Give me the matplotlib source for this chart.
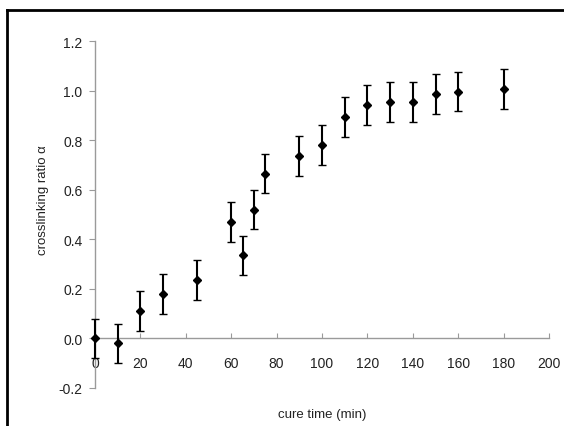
import matplotlib
matplotlib.use("Agg")
import matplotlib.pyplot as plt
from matplotlib.lines import Line2D

plt.rcParams['font.family'] = ['Liberation Sans', 'DejaVu Sans']

cure_time = [0, 10, 20, 30, 45, 60, 65, 70, 75, 90, 100, 110, 120, 130, 140, 150, 160, 180]
alpha = [0.0, -0.02, 0.11, 0.18, 0.235, 0.47, 0.335, 0.52, 0.665, 0.735, 0.78, 0.893, 0.943, 0.953, 0.955, 0.985, 0.996, 1.006]
alpha_err = [0.08] * len(cure_time)
xticks = [0, 20, 40, 60, 80, 100, 120, 140, 160, 180, 200]
yticks = [-0.2, 0.0, 0.2, 0.4, 0.6, 0.8, 1.0, 1.2]

W, H = 564, 427
fig = plt.figure(figsize=(W/100, H/100), dpi=100)
x0, x1 = 95, 549
y_top, y_bot = 42, 389
ax = fig.add_axes([x0/W, 1 - y_bot/H, (x1-x0)/W, (y_bot-y_top)/H])

ax.errorbar(cure_time, alpha, yerr=alpha_err, fmt='D', color='black',
            markersize=4.2, elinewidth=1.5, capsize=2.8, capthick=1.0,
            ecolor='black', zorder=3, clip_on=False)

ax.set_xlim(0, 200)
ax.set_ylim(-0.2, 1.2)
ax.set_xticks(xticks)
ax.set_xticklabels([str(t) for t in xticks])
ax.set_yticks(yticks)
ax.set_yticklabels([f"{t:.1f}" for t in yticks])

for s in ['top', 'right']:
    ax.spines[s].set_visible(False)
ax.spines['left'].set_position(('data', 0))
ax.spines['bottom'].set_position(('data', 0))
for s in ['left', 'bottom']:
    ax.spines[s].set_color('#9a9a9a')
    ax.spines[s].set_linewidth(1.0)

ax.tick_params(axis='x', direction='in', length=3.5, width=0.8, color='#9a9a9a',
               labelsize=10, pad=13, labelcolor='#222222')
ax.tick_params(axis='y', direction='out', length=4, width=0.8, color='#9a9a9a',
               labelsize=10, pad=5, labelcolor='#222222')

ax.set_xlabel('cure time (min)', fontsize=9.5, color='#222222')
ax.xaxis.set_label_coords(0.5, -0.075)
ax.xaxis.label.set_va('center')
ax.set_ylabel('crosslinking ratio α', fontsize=9.5, color='#222222')
ax.yaxis.set_label_coords(-0.115, 0.545)
ax.yaxis.label.set_va('center')

# figure frame (left and top edges)
fig.add_artist(Line2D([7/W, 7/W], [0, 1 - 11/H], transform=fig.transFigure,
                      color='black', linewidth=2))
fig.add_artist(Line2D([7/W, 1], [1 - 11/H, 1 - 11/H], transform=fig.transFigure,
                      color='black', linewidth=2))

fig.savefig('out.png', dpi=100)
